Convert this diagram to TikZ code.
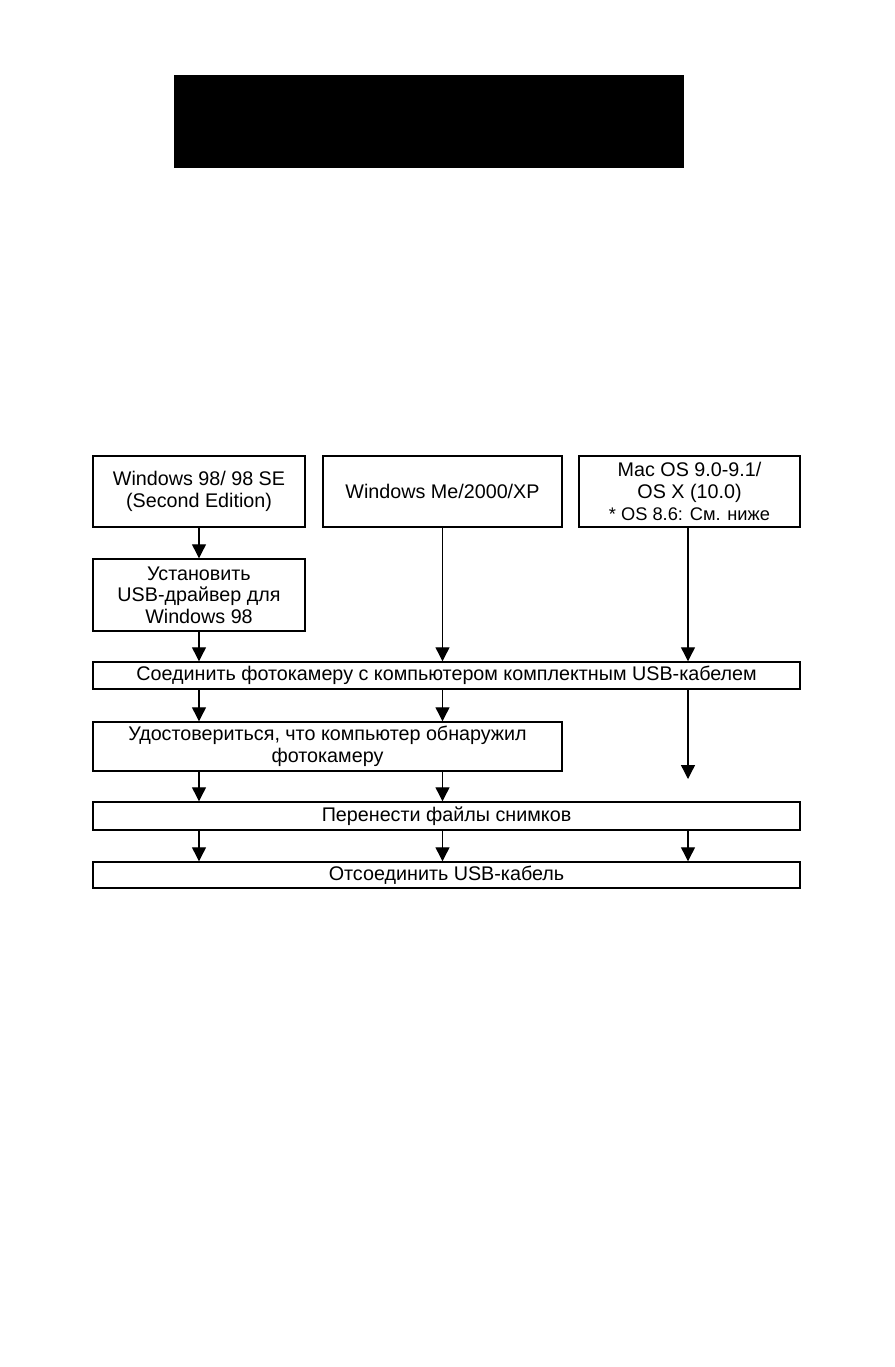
\documentclass[tikz,border=0pt]{standalone}
\usepackage{fontspec}
\setmainfont{Liberation Sans}
\usetikzlibrary{arrows.meta, calc, positioning}

\begin{document}
\begin{tikzpicture}[
    x=0.75pt, y=-0.75pt,
    box/.style={rectangle, draw=black, line width=1.1pt, inner sep=0pt,
      align=center, font=\fontsize{14.8pt}{16.2pt}\selectfont},
    arrow/.style={-{Triangle[width=10.5pt, length=10.5pt]}, line width=1pt},
  ]
    \useasboundingbox (0,0) rectangle (894,1367);
    % title bar
    \node[fill=black, minimum width=382.5pt, minimum height=69.75pt, inner sep=0pt] (title) at (429,121.5) {};

    % systems
    \node[box, minimum width=159pt, minimum height=53.25pt] (win98) at (199,491.5) {Windows 98/ 98 SE\\(Second Edition)};
    \node[box, minimum width=179.25pt, minimum height=53.25pt] (winme) at (442.5,491.5) {Windows Me/2000/XP};
    \node[box, minimum width=165.75pt, minimum height=53.25pt] (mac) at (689.5,491.5) {Mac OS 9.0-9.1/\\OS X (10.0)\\{\fontsize{13.7pt}{16.2pt}\selectfont * OS 8.6: См. ниже}};
    \node[box, minimum width=159pt, minimum height=54pt] (driver) at (199,595) {Установить\\USB-драйвер для\\Windows 98};

    % steps
    \node[box, minimum width=530.25pt, minimum height=20.25pt] (connect) at (446.5,675.5) {Соединить фотокамеру с компьютером комплектным USB-кабелем};
    \node[box, minimum width=351.75pt, minimum height=36.75pt] (check) at (327.5,746.5) {Удостовериться, что компьютер обнаружил\\фотокамеру};
    \node[box, minimum width=530.25pt, minimum height=21pt] (transfer) at (446.5,816) {Перенести файлы снимков};
    \node[box, minimum width=530.25pt, minimum height=19.5pt] (unplug) at (446.5,875) {Отсоединить USB-кабель};
    \coordinate (macend) at (688,779);

    \draw[arrow] (win98) -- (driver);
    \draw[arrow] (driver) -- (driver.south |- connect.north);
    \draw[arrow] (winme.south) -- (winme.south |- connect.north);
    \draw[arrow] ($(mac.south)+(-1.5,0)$) -- ($(mac.south |- connect.north)+(-1.5,0)$);

    \draw[arrow] (win98.south |- connect.south) -- (win98.south |- check.north);
    \draw[arrow] (winme.south |- connect.south) -- (winme.south |- check.north);
    \draw[arrow] (macend |- connect.south) -- (macend);

    \draw[arrow] (win98.south |- check.south) -- (win98.south |- transfer.north);
    \draw[arrow] (winme.south |- check.south) -- (winme.south |- transfer.north);

    \draw[arrow] (win98.south |- transfer.south) -- (win98.south |- unplug.north);
    \draw[arrow] (winme.south |- transfer.south) -- (winme.south |- unplug.north);
    \draw[arrow] (macend |- transfer.south) -- (macend |- unplug.north);
  \end{tikzpicture}
\end{document}
